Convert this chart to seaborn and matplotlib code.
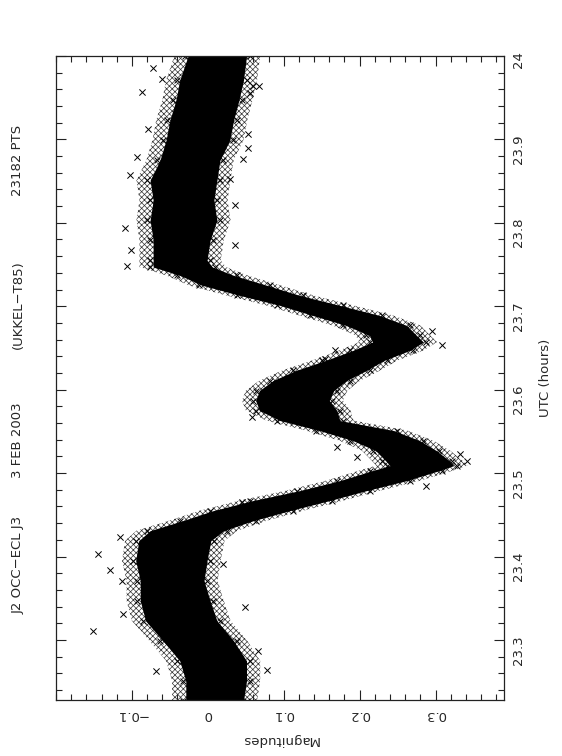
import matplotlib
matplotlib.use("Agg")
import numpy as np
import pandas as pd
import seaborn as sns
import matplotlib.pyplot as plt
from matplotlib.ticker import MultipleLocator

# light curve: time nodes and the edges of the dense band
utc = [24.000, 23.971, 23.947, 23.923, 23.899, 23.875, 23.851, 23.827, 23.803,
       23.779, 23.755, 23.747, 23.737, 23.725, 23.713, 23.701, 23.689, 23.677,
       23.665, 23.657, 23.647, 23.635, 23.623, 23.611, 23.599, 23.587, 23.575,
       23.563, 23.551, 23.539, 23.527, 23.515, 23.509, 23.503, 23.491, 23.479,
       23.467, 23.455, 23.443, 23.431, 23.419, 23.395, 23.371, 23.347, 23.323,
       23.299, 23.275, 23.251, 23.227]
mag_lo = [-0.030, -0.041, -0.046, -0.054, -0.059, -0.067, -0.080, -0.076, -0.080,
          -0.076, -0.076, -0.076, -0.041, -0.011, 0.038, 0.091, 0.134, 0.178,
          0.209, 0.213, 0.187, 0.151, 0.112, 0.082, 0.064, 0.059, 0.064,
          0.091, 0.143, 0.187, 0.217, 0.230, 0.236, 0.213, 0.170, 0.117,
          0.055, 0.003, -0.037, -0.080, -0.095, -0.099, -0.093, -0.093, -0.086,
          -0.063, -0.041, -0.033, -0.033]
mag_hi = [0.055, 0.051, 0.045, 0.038, 0.033, 0.020, 0.016, 0.012, 0.016,
          0.007, 0.003, 0.010, 0.038, 0.082, 0.125, 0.178, 0.230, 0.266,
          0.279, 0.288, 0.270, 0.236, 0.213, 0.187, 0.170, 0.164, 0.174,
          0.178, 0.249, 0.283, 0.305, 0.322, 0.328, 0.309, 0.266, 0.213,
          0.164, 0.112, 0.064, 0.025, 0.008, 0.003, -0.001, 0.007, 0.016,
          0.038, 0.055, 0.055, 0.051]

# isolated points outside the band
out_mag = [-0.072, -0.061, -0.087, -0.079, -0.093, -0.103, 0.068, 0.059, 0.055,
           0.053, 0.053, 0.036, 0.029, 0.046, -0.109, -0.101, -0.107, 0.036,
           0.309, 0.295, 0.167, 0.154, 0.342, 0.332, 0.058, 0.170, 0.197,
           0.288, 0.045, -0.116, -0.145, -0.151, -0.129, -0.113, -0.112,
           0.078, 0.066, 0.020, 0.049, -0.068]
out_utc = [23.986, 23.972, 23.957, 23.912, 23.879, 23.857, 23.964, 23.964, 23.956,
           23.906, 23.890, 23.821, 23.852, 23.876, 23.794, 23.768, 23.748, 23.774,
           23.653, 23.670, 23.648, 23.637, 23.514, 23.523, 23.567, 23.531, 23.519,
           23.484, 23.465, 23.423, 23.403, 23.311, 23.384, 23.371, 23.331,
           23.264, 23.287, 23.391, 23.339, 23.263]

sns.set_style("ticks")
plt.rcParams['font.family'] = ['DejaVu Sans']
plt.rcParams['hatch.linewidth'] = 0.5
plt.rcParams['hatch.color'] = 'black'

band = pd.DataFrame({"utc": utc, "lo": mag_lo, "hi": mag_hi})
outl = pd.DataFrame({"mag": out_mag, "utc": out_utc})

fig = plt.figure(figsize=(5.62, 7.56), dpi=100)
ax = fig.add_axes([0.0996, 0.074, 0.797, 0.852])

# fuzzy fringe of sparse crosses, then the dense core
ax.fill_betweenx(band["utc"], band["lo"] - 0.014, band["hi"] + 0.014,
                 facecolor='none', edgecolor='#333333', hatch='xxxxxx', linewidth=0)
ax.fill_betweenx(band["utc"], band["lo"] + 0.004, band["hi"] - 0.004,
                 color='black', linewidth=0)
sns.scatterplot(data=band, x="lo", y="utc", marker='x', color='black', s=18,
                linewidth=0.7, ax=ax)
sns.scatterplot(data=band, x="hi", y="utc", marker='x', color='black', s=18,
                linewidth=0.7, ax=ax)
sns.scatterplot(data=outl, x="mag", y="utc", marker='x', color='black', s=20,
                linewidth=0.7, ax=ax)

ax.set_xlim(-0.2, 0.39)
ax.set_ylim(23.228, 24.0)
ax.xaxis.set_minor_locator(MultipleLocator(0.02))
ax.yaxis.set_minor_locator(MultipleLocator(0.02))
ax.set_xticks([-0.1, 0, 0.1, 0.2, 0.3])
ax.set_xticklabels(['\u22120.1', '0', '0.1', '0.2', '0.3'])
ax.set_yticks([23.3, 23.4, 23.5, 23.6, 23.7, 23.8, 23.9, 24.0])
ax.set_yticklabels(['23.3', '23.4', '23.5', '23.6', '23.7', '23.8', '23.9', '24'])

ax.yaxis.tick_right()
ax.yaxis.set_label_position('right')
ax.tick_params(which='both', direction='in', top=True, bottom=True,
               left=True, right=True, color='#222222', width=0.8)
ax.tick_params(which='major', length=7)
ax.tick_params(which='minor', length=4)
ax.tick_params(axis='x', labelrotation=180, labelsize=9.5, pad=6)
ax.tick_params(axis='y', labelrotation=90, labelsize=9.5, pad=6,
               labelleft=False, labelright=True)
for s in ax.spines.values():
    s.set_linewidth(0.9)
    s.set_color('#222222')

ax.set_xlabel('Magnitudes', rotation=180, fontsize=9.5, labelpad=8)
ax.set_ylabel('UTC (hours)', rotation=90, fontsize=9.5, labelpad=10)

# header written along the left edge
for txt, ypix in [('J2 OCC\u2212ECL J3', 565), ('3 FEB 2003', 440),
                  ('(UKKEL\u2212T85)', 305), ('23182 PTS', 160)]:
    fig.text(0.032, 1 - ypix / 756, txt, rotation=90, fontsize=9.5,
             ha='center', va='center')

fig.savefig("out.png", dpi=100)
